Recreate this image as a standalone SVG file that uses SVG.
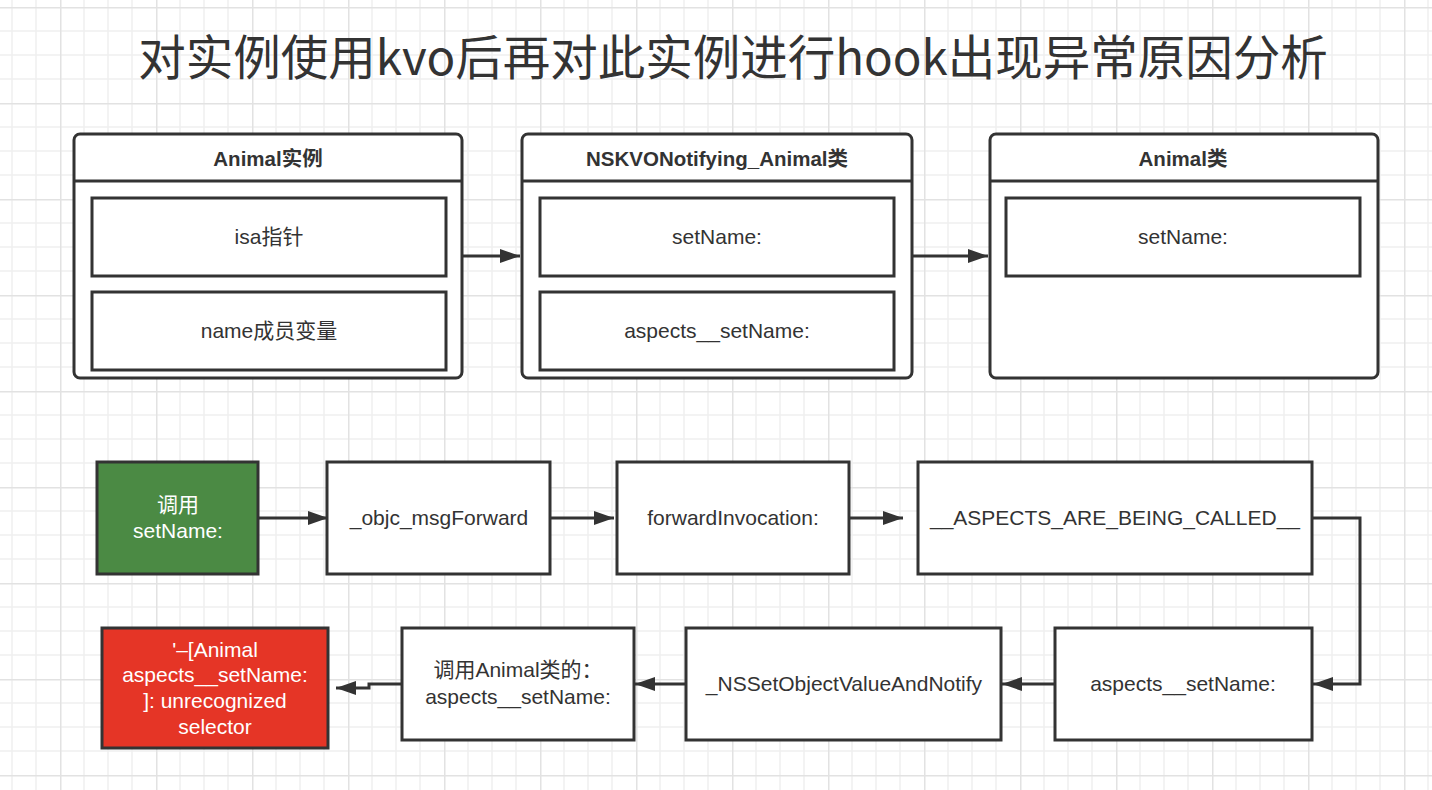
<svg xmlns="http://www.w3.org/2000/svg" width="1432" height="790" viewBox="0 0 1432 790">
<defs>
<pattern id="grid" x="-36" y="7" width="96" height="96" patternUnits="userSpaceOnUse">
<path d="M24,0V96M48,0V96M72,0V96M0,24H96M0,48H96M0,72H96" stroke="#efefef" stroke-width="1.5" fill="none"/>
<path d="M0.75,0V96M0,0.75H96" stroke="#e2e2e2" stroke-width="1.5" fill="none"/>
</pattern>
<marker id="arr" markerUnits="userSpaceOnUse" markerWidth="22" markerHeight="16" refX="20" refY="7" orient="auto">
<path d="M0,0 L20,7 L0,14 z" fill="#333"/>
</marker>
<style>
.box{fill:#fff;stroke:#333;stroke-width:3}
.cont{fill:#fff;stroke:#333;stroke-width:3}
.t{font-family:"Liberation Sans","Noto Sans CJK SC",sans-serif;font-size:21px;fill:#333;text-anchor:middle}
.h{font-weight:bold;font-size:20.5px}
.w{fill:#fff}
.c{fill:none;stroke:#333;stroke-width:3}
</style>
</defs>
<rect width="1432" height="790" fill="#fff"/>
<rect width="1432" height="790" fill="url(#grid)"/>
<text x="733" y="75" style="font-family:'Noto Sans CJK SC','Liberation Sans',sans-serif;font-size:47.5px;fill:#333;text-anchor:middle">对实例使用kvo后再对此实例进行hook出现异常原因分析</text>

<g id="animal-instance">
<rect class="cont" x="74" y="134" width="388" height="244" rx="6"/>
<line x1="74" y1="181" x2="462" y2="181" stroke="#333" stroke-width="3"/>
<text class="t h" x="268" y="166">Animal实例</text>
<g id="isa"><rect class="box" x="92" y="198" width="354" height="78"/><text class="t" x="269" y="244">isa指针</text></g>
<g id="name-ivar"><rect class="box" x="92" y="292" width="354" height="78"/><text class="t" x="269" y="338">name成员变量</text></g>
</g>

<g id="kvo-class">
<rect class="cont" x="522" y="134" width="390" height="244" rx="6"/>
<line x1="522" y1="181" x2="912" y2="181" stroke="#333" stroke-width="3"/>
<text class="t h" x="717" y="166">NSKVONotifying_Animal类</text>
<g id="kvo-setname"><rect class="box" x="540" y="198" width="354" height="78"/><text class="t" x="717" y="244">setName:</text></g>
<g id="kvo-aspects"><rect class="box" x="540" y="292" width="354" height="78"/><text class="t" x="717" y="338">aspects__setName:</text></g>
</g>

<g id="animal-class">
<rect class="cont" x="990" y="134" width="388" height="244" rx="6"/>
<line x1="990" y1="181" x2="1378" y2="181" stroke="#333" stroke-width="3"/>
<text class="t h" x="1183" y="166">Animal类</text>
<g id="animal-setname"><rect class="box" x="1006" y="198" width="354" height="78"/><text class="t" x="1183" y="244">setName:</text></g>
</g>

<g id="call-setname">
<rect x="97" y="462" width="161" height="112" fill="#4b8a44" stroke="#333" stroke-width="3"/>
<text class="t w" x="178" y="512">调用</text>
<text class="t w" x="178" y="538">setName:</text>
</g>
<g id="msgforward"><rect class="box" x="327" y="462" width="223" height="112"/><text class="t" x="439" y="525">_objc_msgForward</text></g>
<g id="forwardinvocation"><rect class="box" x="617" y="462" width="232" height="112"/><text class="t" x="733" y="525">forwardInvocation:</text></g>
<g id="aspects-called"><rect class="box" x="918" y="462" width="394" height="112"/><text class="t" x="1115" y="525">__ASPECTS_ARE_BEING_CALLED__</text></g>
<g id="aspects-setname"><rect class="box" x="1055" y="628" width="257" height="112"/><text class="t" x="1183" y="691">aspects__setName:</text></g>
<g id="nsset"><rect class="box" x="686" y="628" width="315" height="112"/><text class="t" x="844" y="691">_NSSetObjectValueAndNotify</text></g>
<g id="call-animal"><rect class="box" x="402" y="628" width="232" height="112"/>
<text class="t" x="518" y="677">调用Animal类的：</text>
<text class="t" x="518" y="704">aspects__setName:</text></g>
<g id="unrecognized">
<rect x="102" y="628" width="226" height="120" fill="#e53526" stroke="#333" stroke-width="3"/>
<text class="t w" x="215" y="657">'–[Animal</text>
<text class="t w" x="215" y="682">aspects__setName:</text>
<text class="t w" x="215" y="708">]: unrecognized</text>
<text class="t w" x="215" y="734">selector</text>
</g>

<g id="connectors">
<path class="c" d="M462,256H520" marker-end="url(#arr)"/>
<path class="c" d="M912,256H988" marker-end="url(#arr)"/>
<path class="c" d="M258,518H328" marker-end="url(#arr)"/>
<path class="c" d="M550,518H614" marker-end="url(#arr)"/>
<path class="c" d="M849,518H903" marker-end="url(#arr)"/>
<path class="c" d="M1312,518H1360V684H1313" marker-end="url(#arr)"/>
<path class="c" d="M1055,684H1002" marker-end="url(#arr)"/>
<path class="c" d="M686,684H635" marker-end="url(#arr)"/>
<path class="c" d="M402,684H369V688H336" marker-end="url(#arr)"/>
</g>
</svg>
